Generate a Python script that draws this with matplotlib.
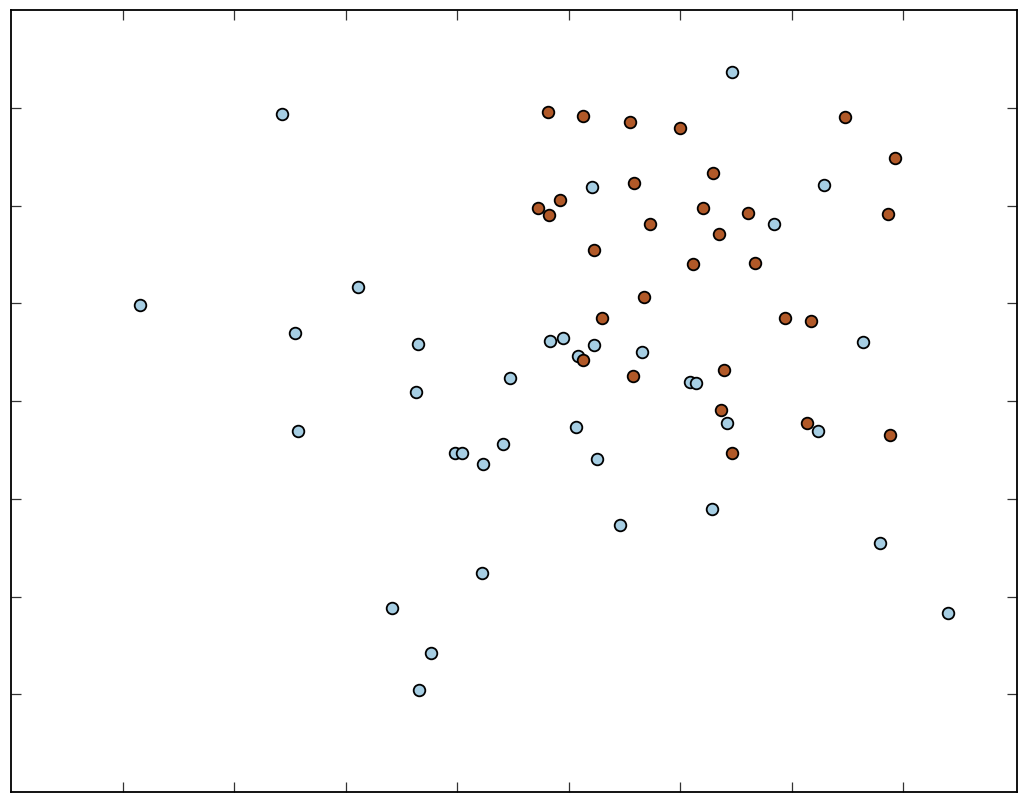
import matplotlib
matplotlib.use("Agg")
import matplotlib.pyplot as plt

# Class 0 points (light blue)
x_blue = [6.467, 2.434, 5.213, 7.292, 6.844, 1.161, 3.115, 2.542, 3.653, 4.836,
          4.953, 5.231, 5.087, 5.661, 7.642, 4.478, 3.635, 6.091, 6.145, 2.569,
          5.069, 6.423, 7.238, 4.415, 3.985, 4.047, 4.236, 5.257, 5.464, 6.288,
          7.794, 4.227, 3.420, 8.403, 3.770, 3.662]
y_blue = [7.368, 6.939, 6.192, 6.213, 5.814, 4.986, 5.170, 4.700, 4.588, 4.618,
          4.649, 4.577, 4.465, 4.506, 4.608, 4.240, 4.087, 4.199, 4.189, 3.688,
          3.729, 3.780, 3.698, 3.555, 3.463, 3.463, 3.351, 3.402, 2.727, 2.891,
          2.543, 2.237, 1.879, 1.828, 1.419, 1.041]

# Class 1 points (brown)
x_brown = [4.818, 5.132, 5.553, 6.001, 7.480, 7.928, 6.297, 5.589, 4.926, 4.729,
           4.827, 6.207, 6.611, 7.866, 5.732, 6.351, 5.231, 6.118, 6.674, 5.679,
           5.302, 6.942, 7.176, 5.132, 5.580, 6.396, 6.369, 7.140, 7.884, 6.467]
y_brown = [6.959, 6.918, 6.857, 6.795, 6.908, 6.489, 6.335, 6.233, 6.059, 5.978,
           5.906, 5.978, 5.927, 5.916, 5.814, 5.712, 5.548, 5.405, 5.415, 5.068,
           4.853, 4.853, 4.823, 4.424, 4.260, 4.322, 3.903, 3.770, 3.657, 3.473]

blue = '#a6cee3'
brown = '#b15928'

fig = plt.figure(figsize=(10.24, 8), dpi=100)
ax = fig.add_axes([11 / 1024, 8 / 800, 1006 / 1024, 782 / 800])

ax.scatter(x_blue, y_blue, s=70, c=blue, edgecolors='black', linewidths=1.3, zorder=3)
ax.scatter(x_brown, y_brown, s=70, c=brown, edgecolors='black', linewidths=1.3, zorder=3)

ax.set_xlim(0, 9.02)
ax.set_ylim(0, 8)
ax.set_xticks(range(1, 9))
ax.set_yticks(range(1, 8))
ax.set_xticklabels([])
ax.set_yticklabels([])
ax.tick_params(direction='in', length=7, width=0.9, top=True, right=True,
               color='#333333')
for sp in ax.spines.values():
    sp.set_linewidth(1.3)

fig.savefig("out.png", dpi=100, facecolor='white')
